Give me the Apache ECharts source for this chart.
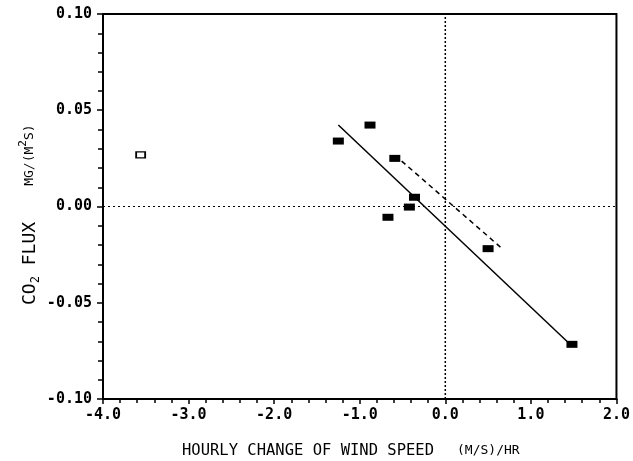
<!DOCTYPE html>
<html>
<head>
<meta charset="utf-8">
<script src="https://cdn.jsdelivr.net/npm/echarts@6/dist/echarts.min.js"></script>
<style>
  html, body { margin: 0; padding: 0; background: #fff; }
  #chart { width: 633px; height: 461px; }
</style>
</head>
<body>
<div id="chart"></div>
<script>
// filled squares: hourly change of wind speed vs CO2 flux
const filledX = [-1.25, -0.88, -0.59, -0.36, -0.42, -0.67, 0.50, 1.48];
const filledY = [0.034, 0.0423, 0.025, 0.0048, -0.0003, -0.0056, -0.0219, -0.0716];
// open square (outlier)
const openX = [-3.56];
const openY = [0.0268];
// solid and dashed fit lines (end points)
const solidX = [-1.25, 1.43];
const solidY = [0.0423, -0.0704];
const dashX = [-0.51, 0.67];
const dashY = [0.0236, -0.0221];

const xTicks = ['-4.0', '-3.0', '-2.0', '-1.0', '0.0', '1.0', '2.0'];
const yTicks = ['-0.10', '-0.05', '0.00', '0.05', '0.10'];

const font = 'DejaVu Sans Mono';

function pairs(xs, ys) { return xs.map((x, i) => [x, ys[i]]); }

let chart = echarts.init(document.getElementById('chart'));
chart.setOption({
  animation: false,
  backgroundColor: '#fff',
  grid: { left: 103, right: 16, top: 14, bottom: 62, show: true, borderColor: '#000', borderWidth: 2 },
  xAxis: {
    type: 'value', min: -4, max: 2, interval: 1,
    axisLine: { show: true, onZero: false, lineStyle: { color: '#000', width: 2 } },
    axisTick: { show: true, length: 5, lineStyle: { color: '#000', width: 1.5 } },
    minorTick: { show: true, splitNumber: 5, length: 4, lineStyle: { color: '#000', width: 1.5 } },
    splitLine: { show: false },
    axisLabel: { color: '#000', fontFamily: font, fontSize: 15, fontWeight: 'bold', margin: 9,
      formatter: v => xTicks[Math.round(v) + 4] }
  },
  yAxis: {
    type: 'value', min: -0.1, max: 0.1, interval: 0.05,
    axisLine: { show: true, onZero: false, lineStyle: { color: '#000', width: 2 } },
    axisTick: { show: true, length: 6, lineStyle: { color: '#000', width: 1.5 } },
    minorTick: { show: true, splitNumber: 5, length: 5, lineStyle: { color: '#000', width: 1.5 } },
    splitLine: { show: false },
    axisLabel: { color: '#000', fontFamily: font, fontSize: 15, fontWeight: 'bold', margin: 11,
      formatter: v => yTicks[Math.round(v / 0.05) + 2] }
  },
  graphic: [
    { type: 'text', x: 182, y: 451,
      style: { text: 'HOURLY CHANGE OF WIND SPEED', fontFamily: font, fontSize: 15.5,
        fill: '#000', verticalAlign: 'middle' } },
    { type: 'text', x: 457, y: 451,
      style: { text: '(M/S)/HR', fontFamily: font, fontSize: 13, fill: '#000', verticalAlign: 'middle' } },
    { type: 'text', x: 30, y: 305, rotation: Math.PI / 2,
      style: { text: '{a|CO}{s|2}{a| FLUX}     {b|MG/(M}{p|2}{b|S)}', fontFamily: font,
        verticalAlign: 'middle',
        rich: { a: { fontSize: 18, fill: '#000', fontFamily: font, verticalAlign: 'middle', lineHeight: 24 },
                s: { fontSize: 12, fill: '#000', fontFamily: font, verticalAlign: 'bottom', lineHeight: 24 },
                b: { fontSize: 13, fill: '#000', fontFamily: font, verticalAlign: 'middle', lineHeight: 24 },
                p: { fontSize: 11, fill: '#000', fontFamily: font, verticalAlign: 'top', lineHeight: 24 } } } }
  ],
  series: [
    { type: 'line', data: [[-4, 0], [2, 0]], symbol: 'none', silent: true,
      lineStyle: { color: '#000', width: 1.2, type: [2, 3] } },
    { type: 'line', data: [[0, -0.1], [0, 0.1]], symbol: 'none', silent: true,
      lineStyle: { color: '#000', width: 1.5, type: [2, 2] } },
    { type: 'line', data: pairs(solidX, solidY), symbol: 'none',
      lineStyle: { color: '#000', width: 1.5 } },
    { type: 'line', data: pairs(dashX, dashY), symbol: 'none',
      lineStyle: { color: '#000', width: 1.5, type: [5, 4] } },
    { type: 'scatter', data: pairs(filledX, filledY), symbol: 'rect', symbolSize: [11, 7],
      itemStyle: { color: '#000', opacity: 1 }, z: 5 },
    { type: 'scatter', data: pairs(openX, openY), symbol: 'rect', symbolSize: [9, 6],
      itemStyle: { color: '#fff', borderColor: '#000', borderWidth: 1.5, opacity: 1 }, z: 5 }
  ]
});
</script>
</body>
</html>
